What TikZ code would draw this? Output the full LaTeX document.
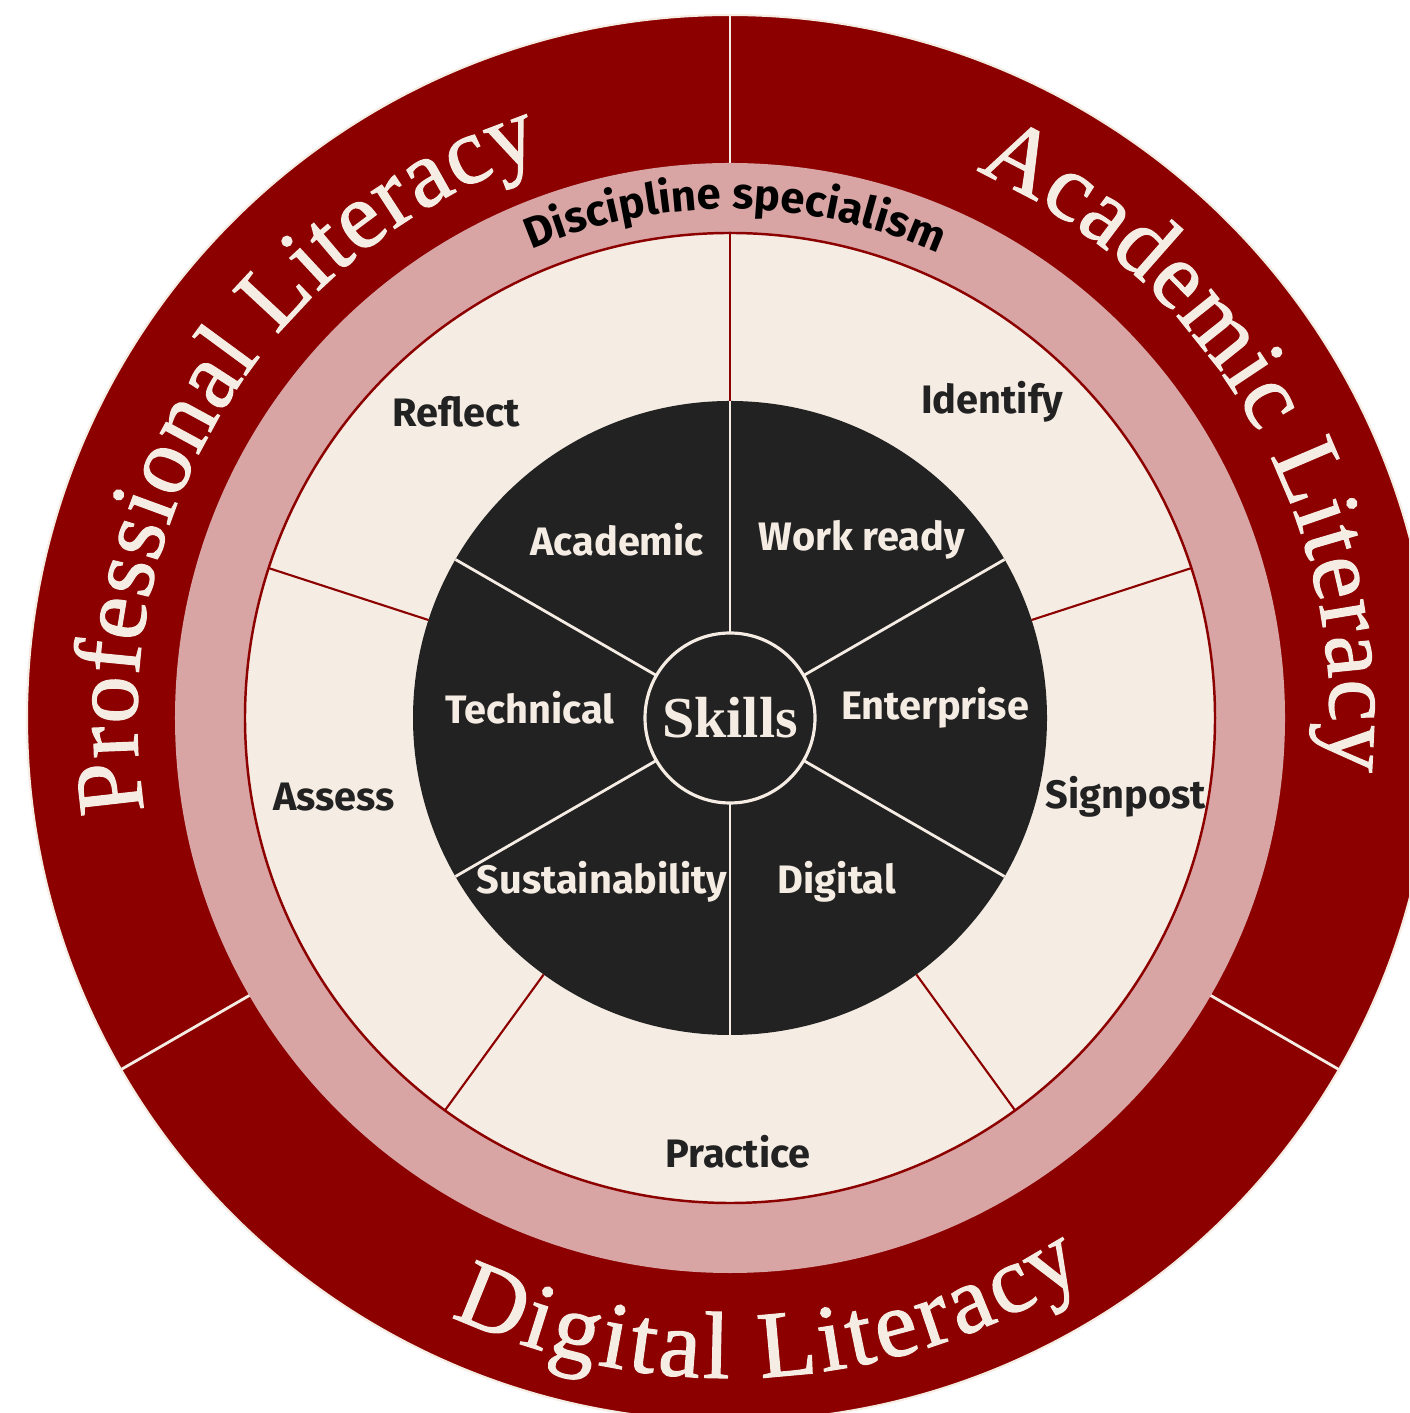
\documentclass[tikz,border=0pt]{standalone}
\usepackage{fontspec}
\setmainfont{Liberation Serif}
\newfontfamily\firasans{Fira Sans}
\newfontfamily\ringserif{Liberation Serif}[FakeBold=1.3]
\usetikzlibrary{decorations.text}

\definecolor{litred}{RGB}{140,0,0}
\definecolor{discpink}{RGB}{216,164,164}
\definecolor{cream}{RGB}{245,236,227}
\definecolor{skilldark}{RGB}{34,34,34}

\newcommand\ringfont{\ringserif\fontsize{27}{32}\selectfont}
\newcommand\bandfont{\firasans\bfseries\fontsize{12.4}{15}\selectfont}

\begin{document}
\begin{tikzpicture}[
  ring/.style={circle,inner sep=0pt,outer sep=0pt,minimum size=#1},
  ring text/.style={decorate,decoration={text along path,text align={fit to path},
    text color=cream,text={|\ringfont|#1}}},
  band text/.style={decorate,decoration={text along path,text align={fit to path},
    text color=black,text={|\bandfont|#1}}},
  act label/.style={font=\firasans\bfseries\fontsize{11.3}{14}\selectfont,text=skilldark},
  skill label/.style={font=\firasans\bfseries\fontsize{11.3}{14}\selectfont,text=cream}]
    \useasboundingbox (-7.30,-6.95) rectangle (6.79,7.18);
    \clip (-7.30,-6.95) rectangle (6.79,7.18);

    % rings from outside in
    \node[ring=14.06cm,fill=litred,draw=cream,line width=0.6pt](litring) at (0,0) {};
    \node[ring=11.1cm,fill=discpink](discring) at (0,0) {};
    \node[ring=9.7cm,fill=cream,draw=litred,line width=0.7pt](actring) at (0,0) {};
    \node[ring=6.34cm,fill=skilldark](core) at (0,0) {};
    \node[ring=1.7cm,fill=skilldark,draw=cream,line width=0.9pt,
      font=\bfseries\fontsize{16.5}{18}\selectfont,text=cream](skills) at (0,0) {Skills};

    % dividers
    \foreach \a in {90,210,330}
      \draw[cream,line width=0.8pt] (litring.\a) -- (discring.\a);
    \foreach \a in {18,90,...,306}
      \draw[litred,line width=0.6pt] (actring.\a) -- (core.\a);
    \foreach \a in {30,90,...,330}
      \draw[cream,line width=0.8pt] (core.\a) -- (skills.\a);

    % curved titles
    \path[ring text={Professional Literacy}] (189:5.93) arc[start angle=189,end angle=108.5,radius=5.93];
    \path[ring text={Academic Literacy}] (65.8:6.0) arc[start angle=65.8,end angle=-5,radius=6.0];
    \path[ring text={Digital Literacy}] (245:6.6) arc[start angle=245,end angle=302.5,radius=6.6];
    \path[band text={Discipline specialism}] (113:5.09) arc[start angle=113,end angle=65.8,radius=5.09];

    % activities
    \node[act label](reflect) at (-2.74,3.06) {Reflect};
    \node[act label](identify) at (2.62,3.16) {Identify};
    \node[act label](assess) at (-3.96,-0.79) {Assess};
    \node[act label](signpost) at (3.96,-0.79) {Signpost};
    \node[act label](practice) at (0.08,-4.34) {Practice};

    % skills
    \node[skill label](academic) at (-1.13,1.78) {Academic};
    \node[skill label](workready) at (1.32,1.78) {Work ready};
    \node[skill label](technical) at (-2.00,0.10) {Technical};
    \node[skill label](enterprise) at (2.05,0.10) {Enterprise};
    \node[skill label](sustain) at (-1.28,-1.64) {Sustainability};
    \node[skill label](digital) at (1.07,-1.64) {Digital};
\end{tikzpicture}
\end{document}
